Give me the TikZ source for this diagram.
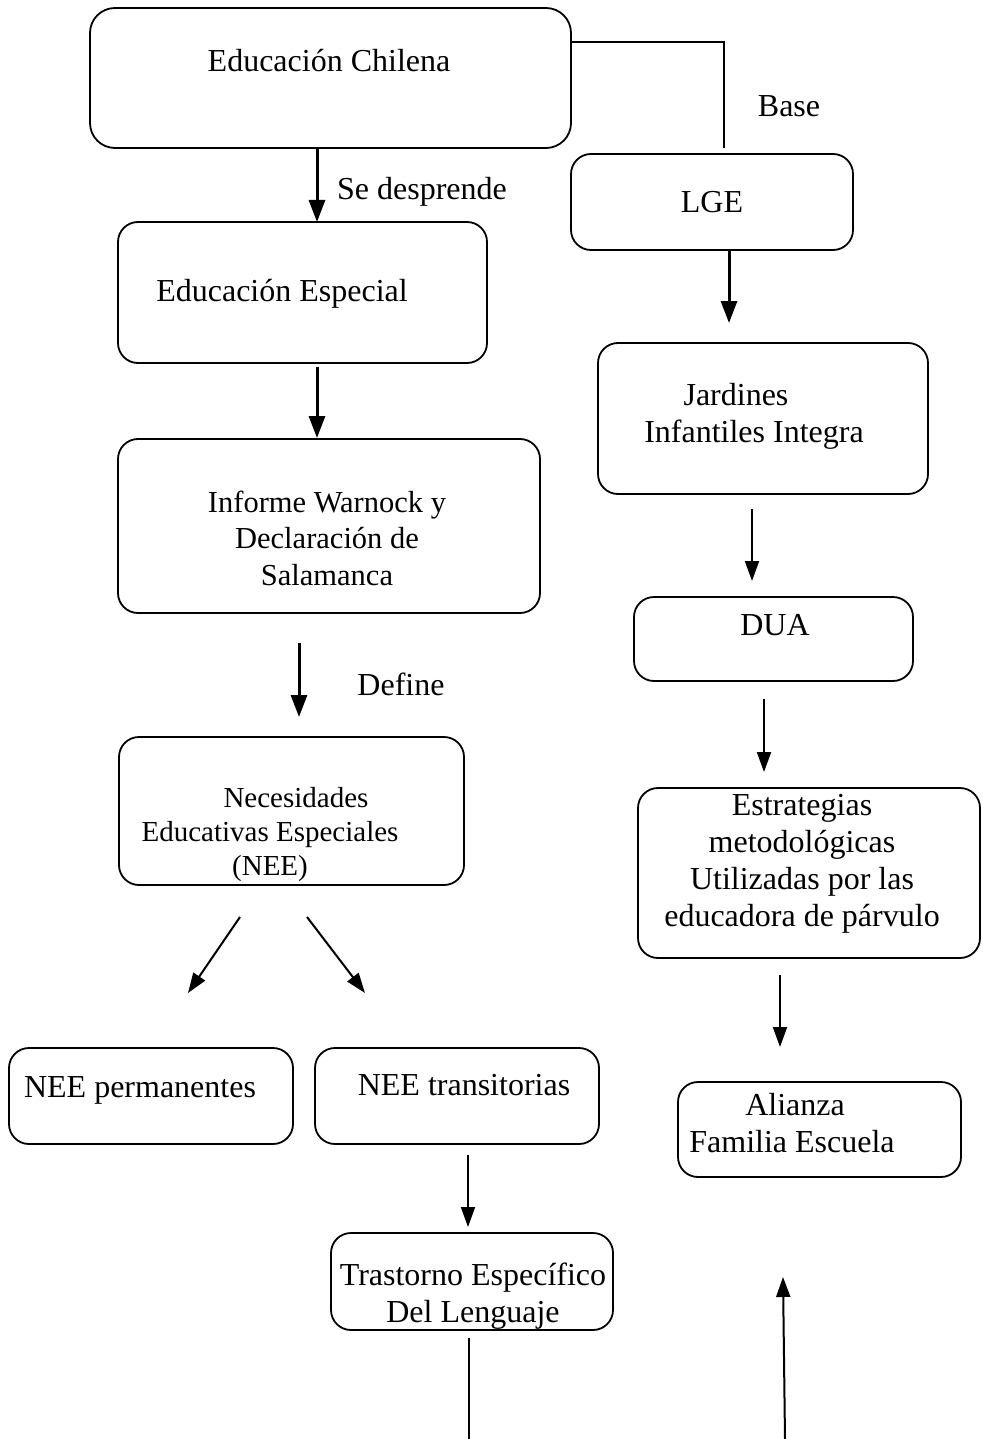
\documentclass[tikz,border=0pt]{standalone}
\usepackage{fontspec}
\setmainfont{Liberation Serif}
\usetikzlibrary{arrows.meta}
\newcommand{\mlines}[1]{\begin{tabular}[t]{@{}c@{}}#1\end{tabular}}
\begin{document}
\begin{tikzpicture}[x=1pt,y=-1pt,
  box/.style={draw, rounded corners=20pt, line width=1.8pt, inner sep=0pt, outer sep=0pt},
  tx/.style={inner sep=0pt, anchor=base, font=\fontsize{32pt}{37pt}\selectfont},
  txs/.style={inner sep=0pt, anchor=base, font=\fontsize{30.5pt}{36.5pt}\selectfont},
  txn/.style={inner sep=0pt, anchor=base, font=\fontsize{29pt}{34pt}\selectfont},
  arrthick/.style={line width=3pt, -{Triangle[length=22pt,width=16pt]}},
  arr/.style={line width=2pt, -{Triangle[length=20pt,width=14pt]}},
  plain/.style={line width=1.6pt}]
\useasboundingbox (0,0) rectangle (982,1439);
% boxes
\node[box, rounded corners=25pt, minimum width=481pt, minimum height=140pt] (ec) at (330.5,78) {};
\node[box, minimum width=282pt, minimum height=96pt] (lge) at (712,202) {};
\node[box, minimum width=369pt, minimum height=141pt] (ee) at (302.5,292.5) {};
\node[box, minimum width=422pt, minimum height=174pt] (iw) at (329,526) {};
\node[box, minimum width=345pt, minimum height=148pt] (nee) at (291.5,811) {};
\node[box, minimum width=284pt, minimum height=96pt] (np) at (151,1096) {};
\node[box, minimum width=284pt, minimum height=96pt] (nt) at (457,1096) {};
\node[box, minimum width=282pt, minimum height=97pt] (tel) at (472,1281.5) {};
\node[box, minimum width=330pt, minimum height=151pt] (ji) at (763,418.5) {};
\node[box, minimum width=279pt, minimum height=84pt] (dua) at (773.5,639) {};
\node[box, minimum width=342pt, minimum height=170pt] (em) at (809,873) {};
\node[box, minimum width=283pt, minimum height=95pt] (afe) at (819.5,1129.5) {};
% texts
\node[tx] (tec) at (329,72) {Educación Chilena};
\node[tx] (tbase) at (789,117) {Base};
\node[tx] (tlge) at (712,213) {LGE};
\node[tx] (tsd) at (422,200) {Se desprende};
\node[tx] (tee) at (282,301) {Educación Especial};
\node[txs] (tiw) at (327,512) {\mlines{Informe Warnock y\\Declaración de\\Salamanca}};
\node[tx] (tdef) at (401,695) {Define};
\node[txn] (tnee) at (270,807) {\mlines{\hspace*{52pt}Necesidades\\Educativas Especiales\\(NEE)}};
\node[tx] (tnp) at (140,1097) {NEE permanentes};
\node[tx] (tnt) at (464,1095) {NEE transitorias};
\node[tx] (ttel) at (473,1285) {\mlines{Trastorno Específico\\Del Lenguaje}};
\node[tx] (tji) at (754,405) {\mlines{Jardines\hspace*{36pt}\\Infantiles Integra}};
\node[tx] (tdua) at (775,635) {DUA};
\node[tx] (tem) at (802,815) {\mlines{Estrategias\\metodológicas\\Utilizadas por las\\educadora de párvulo}};
\node[tx] (tafe) at (792,1115) {\mlines{\hspace*{6pt}Alianza\\Familia Escuela}};
% free ends
\coordinate (telend) at (469,1439);
\coordinate (upstart) at (785,1439);
% connectors
\draw[plain] (ec.east |- 0,42) -| ([yshift=6pt]lge.north -| 724,0);
\draw[arrthick] (ec.south -| 317,0) -- (ee.north -| 317,0);
\draw[arrthick, shorten <=4pt, shorten >=1pt] (ee.south -| 317,0) -- (iw.north -| 317,0);
\draw[arrthick, shorten <=30pt, shorten >=20pt] (iw.south -| 299,0) -- (nee.north -| 299,0);
\draw[arr] ([yshift=-32pt]nee.south -| 240,0) -- ([yshift=55pt]np.north -| 188,0);
\draw[arr] ([yshift=-32pt]nee.south -| 307,0) -- ([yshift=55pt]nt.north -| 365,0);
\draw[arr, shorten <=11pt, shorten >=6pt] (nt.south -| 468,0) -- (tel.north -| 468,0);
\draw[plain, line width=2pt, shorten <=8pt] (tel.south -| 469,0) -- (telend);
\draw[arrthick, shorten >=20pt] (lge.south -| 729,0) -- (ji.north -| 729,0);
\draw[arr, shorten <=15pt, shorten >=16pt] (ji.south -| 752,0) -- (dua.north -| 752,0);
\draw[arr, shorten <=18pt, shorten >=16pt] (dua.south -| 764,0) -- (em.north -| 764,0);
\draw[arr, shorten <=17pt, shorten >=35pt] (em.south -| 780,0) -- (afe.north -| 780,0);
\draw[arr] (upstart) -- ([yshift=-100pt]afe.south -| 783,0);
\end{tikzpicture}
\end{document}
